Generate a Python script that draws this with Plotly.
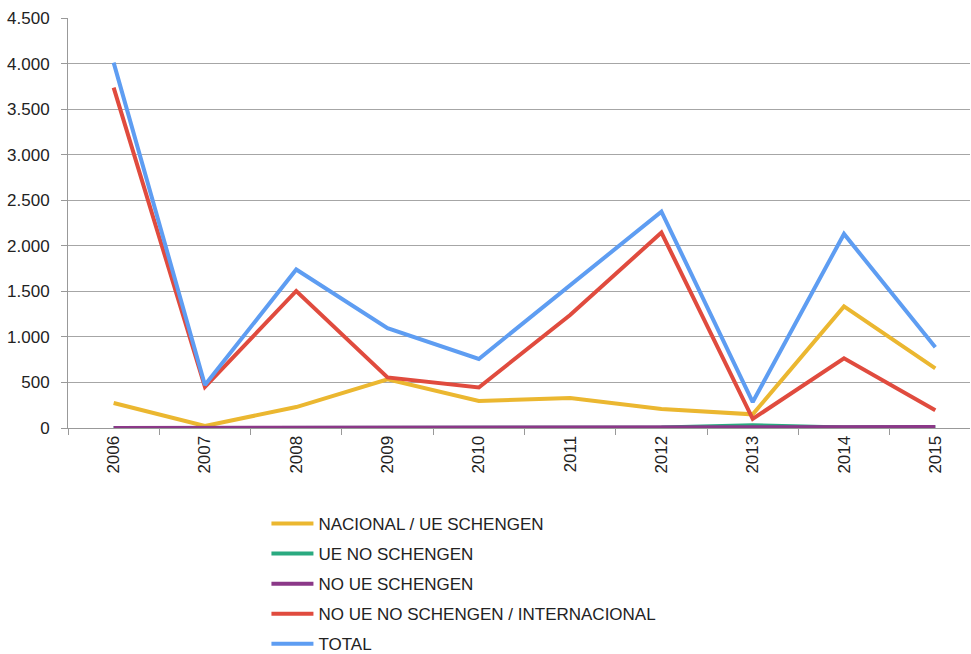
import plotly.graph_objects as go

years = ["2006", "2007", "2008", "2009", "2010", "2011", "2012", "2013", "2014", "2015"]
nacional_ue_schengen = [275, 22, 230, 535, 296, 329, 209, 150, 1335, 655]
ue_no_schengen = [0, 0, 0, 0, 0, 0, 5, 30, 5, 8]
no_ue_schengen = [0, 0, 0, 0, 0, 0, 2, 5, 10, 10]
no_ue_no_schengen = [3735, 450, 1504, 555, 445, 1240, 2145, 100, 765, 195]
total = [4010, 472, 1740, 1095, 758, 1570, 2375, 285, 2130, 885]

series = [
    ("NACIONAL / UE SCHENGEN", nacional_ue_schengen, "#EBB730"),
    ("UE NO SCHENGEN", ue_no_schengen, "#2AAA80"),
    ("NO UE SCHENGEN", no_ue_schengen, "#8B3888"),
    ("NO UE NO SCHENGEN / INTERNACIONAL", no_ue_no_schengen, "#E04B3E"),
    ("TOTAL", total, "#5E9DF2"),
]

fig = go.Figure()
for i, (name, vals, color) in enumerate(series):
    fig.add_trace(go.Scatter(
        x=years, y=vals, name=name, mode="lines",
        line=dict(color=color, width=4),
        legendgroup=f"g{i}",
    ))

fig.update_layout(
    width=971, height=654,
    margin=dict(l=68, r=1, t=18, b=226, autoexpand=False),
    paper_bgcolor="white", plot_bgcolor="white",
    font=dict(family="Liberation Sans, Arial, sans-serif", size=17, color="#222222"),
    separators=",.",
    showlegend=True,
    legend=dict(
        x=0.22, y=-0.19, xanchor="left", yanchor="top",
        orientation="v", tracegroupgap=5, itemwidth=42,
        font=dict(size=17, color="#222222"),
        bgcolor="rgba(0,0,0,0)",
    ),
    xaxis=dict(
        type="category", range=[-0.5, 9.38],
        tickson="boundaries", ticks="outside", ticklen=6, tickcolor="#999999",
        showline=True, linecolor="#999999", linewidth=1,
        showgrid=False, tickangle=-90,
        tickfont=dict(size=17, color="#222222"),
    ),
    yaxis=dict(
        range=[0, 4500], dtick=500, tickformat=",d",
        showgrid=True, gridcolor="#A6A6A6", gridwidth=1,
        showline=True, linecolor="#999999", linewidth=1,
        ticks="outside", ticklen=6, tickcolor="#999999", ticklabelstandoff=8,
        zeroline=False,
        tickfont=dict(size=17, color="#222222"),
    ),
)

fig.write_html(
    "out.html",
    config={"displayModeBar": False},
    post_script="document.body.style.margin='0';document.body.style.overflow='hidden';",
)
